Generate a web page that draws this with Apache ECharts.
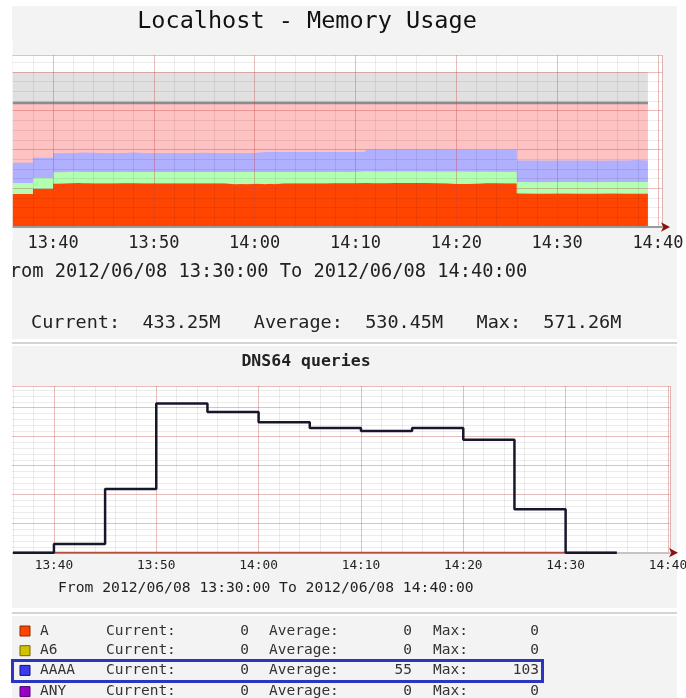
<!DOCTYPE html>
<html><head><meta charset="utf-8">
<script src="https://cdn.jsdelivr.net/npm/echarts@6/dist/echarts.min.js"></script>
<style>html,body{margin:0;padding:0;background:#fff}#c{width:686px;height:698px}</style>
</head><body><div id="c"></div>
<script>
// ---------- data: Memory Usage (minutes after 13:00, values in M) ----------
const memTimes = [36,37,38,39,40,41,42,43,44,45,46,47,48,49,50,51,52,53,54,55,56,57,58,59,
  60,61,62,63,64,65,66,67,68,69,70,71,72,73,74,75,76,77,78,79,80,81,82,83,84,85,
  86,87,88,89,90,91,92,93,94,95,96,97,98,99];
const memUsed = [427,427,491,491,
  562,565,571,566,563,563,564,569,565,563,
  563,564,563,565,566,563,565,564,552,556,
  564,553,564,565,566,565,566,566,567,566,
  567,568,566,567,568,567,568,567,566,566,
  555,558,566,567,566,566,
  434,433,432,433,434,433,433,432,433,434,433,433,433.25,433.25];
const memBuffers = [142,142,142,142,
  145,145,145,145,145,145,145,145,145,145,
  145,145,145,145,145,145,145,145,157,153,
  145,156,145,145,145,145,145,145,145,145,
  146,150,150,150,150,150,150,150,150,150,
  160,157,148,148,148,148,
  146,146,146,146,146,146,146,146,146,146,146,146,146,146];
const memCached = [259,259,259,259,
  246,246,246,246,246,246,246,246,246,246,
  246,246,246,246,246,246,246,246,246,246,
  257,257,257,257,257,257,257,257,257,257,
  257,279,279,279,279,279,279,279,279,279,
  279,279,279,279,279,279,
  278,278,278,278,278,278,278,278,278,278,278,286,278,278];
const memTotalTimes = [36,99];
const memTotal = [1600,1600];
const memSwap = [2000,2000];
const memStatLabels = ['Current:','Average:','Max:'];
const memStatValues = ['433.25M','530.45M','571.26M'];

// ---------- data: DNS64 queries ----------
const dnsTimes = [36,40,45,50,55,60,65,70,75,80,85,90,95];
const dnsAAAA = [0,6,44,103,97,90,86,84,86,78,30,0,0];
const dnsATimes = [36,95];
const dnsA = [0,0];
const dnsNames = ['A','A6','AAAA','ANY'];
const dnsCurrent = [0,0,0,0];
const dnsAverage = [0,0,55,0];
const dnsMax = [0,0,103,0];

const rangeText = 'From 2012/06/08 13:30:00 To 2012/06/08 14:40:00';
const xTickLabels = v => (Math.abs(v % 10) < 1e-6 ? (13 + Math.floor(v / 60)) + ':' + String(v % 60).padStart(2, '0') : '');

// ---------- styles ----------
const MONO = '"DejaVu Sans Mono", "Liberation Mono", monospace';
const dnsColors = ['#ff4400','#d2c200','#3a3af0','#9a00c8'];
const dnsBorders = ['#8a2a00','#6e6400','#101070','#500070'];
const minorX = 'rgba(0,0,0,0.075)';
const majorX = 'rgba(230,80,80,0.30)';

function zip(t, v) { return t.map((x, i) => [x, v[i]]); }
function zipYX(t, v) { return t.map((x, i) => [v[i], x]); }

function xAxes(grid, max, fontSize, margin, lineColor) {
  return [
    { gridIndex: grid, type: 'value', min: 30, max: max, interval: 2, position: 'bottom', z: 5,
      axisLine: { show: false }, axisTick: { show: false }, axisLabel: { show: false },
      splitLine: { show: true, lineStyle: { color: minorX, width: 1 } } },
    { gridIndex: grid, type: 'value', min: 30, max: max, interval: 10, position: 'bottom', z: 6,
      axisLine: { show: true, onZero: false, lineStyle: { color: lineColor, width: 2 } },
      axisTick: { show: false },
      axisLabel: { show: true, formatter: xTickLabels, fontFamily: MONO, fontSize: fontSize, color: '#222', margin: margin, showMinLabel: false },
      splitLine: { show: true, lineStyle: { color: majorX, width: 1 } } },
    { gridIndex: grid, type: 'value', min: 30, max: max, position: 'bottom', z: 7,
      axisLine: { show: true, onZero: false, symbol: ['none', 'arrow'], symbolSize: [7, 9], symbolOffset: [0, 8],
        lineStyle: { color: '#8b1010', width: 0 } },
      axisTick: { show: false }, axisLabel: { show: false }, splitLine: { show: false } }
  ];
}
function yAxes(grid, max, minor, major) {
  return [
    { gridIndex: grid, type: 'value', min: 0, max: max, interval: minor, position: 'left', z: 5,
      axisLine: { show: false }, axisTick: { show: false }, axisLabel: { show: false },
      splitLine: { show: true, lineStyle: { color: minorX, width: 1 } } },
    { gridIndex: grid, type: 'value', min: 0, max: max, interval: major, position: 'left', z: 6,
      axisLine: { show: false }, axisTick: { show: false }, axisLabel: { show: false },
      splitLine: { show: true, lineStyle: { color: majorX, width: 1 } } }
  ];
}

const graphics = [
  // panels
  { type: 'rect', z: -10, shape: { x: 12, y: 6, width: 665, height: 333 }, style: { fill: '#f3f3f3' } },
  { type: 'line', z: -10, shape: { x1: 12, y1: 343, x2: 677, y2: 343 }, style: { stroke: '#d4d4d4', lineWidth: 2 } },
  { type: 'rect', z: -10, shape: { x: 12, y: 346, width: 665, height: 262 }, style: { fill: '#f3f3f3' } },
  { type: 'line', z: -10, shape: { x1: 12, y1: 613, x2: 677, y2: 613 }, style: { stroke: '#d4d4d4', lineWidth: 2 } },
  { type: 'rect', z: -10, shape: { x: 12, y: 616, width: 665, height: 82 }, style: { fill: '#f3f3f3' } },
  // texts
  { type: 'text', z: 101, x: 307, y: 22, style: { text: 'Localhost - Memory Usage', font: '23.5px ' + MONO, fill: '#111', align: 'center', verticalAlign: 'middle' } },
  { type: 'text', z: 101, x: -1.5, y: 272, style: { text: rangeText, font: '18.7px ' + MONO, fill: '#222', align: 'left', verticalAlign: 'middle' } },
  { type: 'text', z: 101, x: 31, y: 323, style: {
      text: memStatLabels[0] + '  ' + memStatValues[0] + '   ' + memStatLabels[1] + '  ' + memStatValues[1] + '   ' + memStatLabels[2] + '  ' + memStatValues[2],
      font: '18.5px ' + MONO, fill: '#222', align: 'left', verticalAlign: 'middle' } },
  { type: 'text', z: 101, x: 306, y: 362, style: { text: 'DNS64 queries', font: 'bold 16.5px ' + MONO, fill: '#222', align: 'center', verticalAlign: 'middle' } },
  { type: 'text', z: 101, x: 58, y: 588, style: { text: rangeText, font: '14.7px ' + MONO, fill: '#222', align: 'left', verticalAlign: 'middle' } },
  // left cover strips (the screenshots are cropped at the left)
  { type: 'rect', z: 110, shape: { x: 0, y: 40, width: 12.5, height: 200 }, style: { fill: '#fff' } },
  { type: 'rect', z: 110, shape: { x: 0, y: 258, width: 9.5, height: 30 }, style: { fill: '#fff' } },
  { type: 'rect', z: 110, shape: { x: 0, y: 380, width: 12, height: 180 }, style: { fill: '#fff' } }
];
dnsNames.forEach((name, i) => {
  const y = 631 + i * 19.7 + (i === 3 ? 1.5 : 0);
  const f = '14.5px ' + MONO;
  graphics.push(
    { type: 'rect', z: 101, shape: { x: 20, y: y - 5, width: 10, height: 10 }, style: { fill: dnsColors[i], stroke: dnsBorders[i], lineWidth: 1 } },
    { type: 'text', z: 101, x: 40, y: y, style: { text: name, font: f, fill: '#333', align: 'left', verticalAlign: 'middle' } },
    { type: 'text', z: 101, x: 106, y: y, style: { text: 'Current:', font: f, fill: '#333', align: 'left', verticalAlign: 'middle' } },
    { type: 'text', z: 101, x: 249, y: y, style: { text: String(dnsCurrent[i]), font: f, fill: '#333', align: 'right', verticalAlign: 'middle' } },
    { type: 'text', z: 101, x: 269, y: y, style: { text: 'Average:', font: f, fill: '#333', align: 'left', verticalAlign: 'middle' } },
    { type: 'text', z: 101, x: 412, y: y, style: { text: String(dnsAverage[i]), font: f, fill: '#333', align: 'right', verticalAlign: 'middle' } },
    { type: 'text', z: 101, x: 433, y: y, style: { text: 'Max:', font: f, fill: '#333', align: 'left', verticalAlign: 'middle' } },
    { type: 'text', z: 101, x: 539, y: y, style: { text: String(dnsMax[i]), font: f, fill: '#333', align: 'right', verticalAlign: 'middle' } }
  );
});
graphics.push({ type: 'rect', z: 102, shape: { x: 12.5, y: 660.5, width: 530, height: 21 }, style: { fill: 'none', stroke: '#2a35c0', lineWidth: 3 } });

const chart = echarts.init(document.getElementById('c'), null, { renderer: 'canvas' });
chart.setOption({
  animation: false,
  backgroundColor: '#ffffff',
  grid: [
    { left: -47.8, right: 24, top: 55, height: 172, show: true, backgroundColor: '#ffffff', borderWidth: 0, outerBoundsMode: 'none', containLabel: false },
    { left: -48.4, right: 16, top: 386, height: 166.7, show: true, backgroundColor: '#ffffff', borderWidth: 0, outerBoundsMode: 'none', containLabel: false }
  ],
  xAxis: [].concat(xAxes(0, 100.4, 17, 8, '#9a9a9a'), xAxes(1, 100.2, 12.8, 6, '#c4c4c4')),
  yAxis: [].concat(yAxes(0, 2219, 125, 500), yAxes(1, 115, 4, 20)),
  graphic: graphics,
  series: [
    { name: 'Swap', type: 'line', xAxisIndex: 0, yAxisIndex: 0, step: 'end', symbol: 'none',
      data: zip(memTotalTimes, memSwap), lineStyle: { width: 0 }, areaStyle: { color: '#e0e0e0', opacity: 1 } },
    { name: 'Total', type: 'line', xAxisIndex: 0, yAxisIndex: 0, step: 'end', symbol: 'none',
      data: zip(memTotalTimes, memTotal), lineStyle: { width: 2.5, color: '#8c8c8c' }, areaStyle: { color: '#ffc2c2', opacity: 1 } },
    { name: 'Used', type: 'line', stack: 'mem', xAxisIndex: 0, yAxisIndex: 0, step: 'end', symbol: 'none',
      encode: { x: 1, y: 0 }, data: zipYX(memTimes, memUsed), lineStyle: { width: 0 }, areaStyle: { color: '#ff4500', opacity: 1 } },
    { name: 'Buffers', type: 'line', stack: 'mem', xAxisIndex: 0, yAxisIndex: 0, step: 'end', symbol: 'none',
      encode: { x: 1, y: 0 }, data: zipYX(memTimes, memBuffers), lineStyle: { width: 0 }, areaStyle: { color: '#b2ffb2', opacity: 1 } },
    { name: 'Cached', type: 'line', stack: 'mem', xAxisIndex: 0, yAxisIndex: 0, step: 'end', symbol: 'none',
      encode: { x: 1, y: 0 }, data: zipYX(memTimes, memCached), lineStyle: { width: 0 }, areaStyle: { color: '#b0b0ff', opacity: 1 } },
    { name: 'A', type: 'line', xAxisIndex: 3, yAxisIndex: 2, step: 'end', symbol: 'none', z: 10,
      data: zip(dnsATimes, dnsA), lineStyle: { width: 2, color: '#b4503c' } },
    { name: 'AAAA', type: 'line', xAxisIndex: 3, yAxisIndex: 2, step: 'end', symbol: 'none', z: 11,
      data: zip(dnsTimes, dnsAAAA), lineStyle: { width: 2.5, color: '#17172c' } }
  ]
});
</script>
</body></html>
